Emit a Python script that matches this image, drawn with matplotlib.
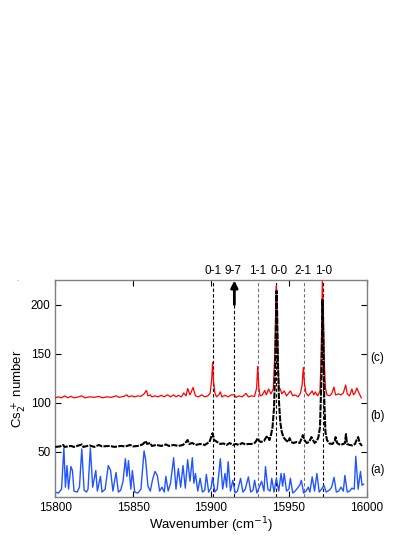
import matplotlib
matplotlib.use("Agg")
import matplotlib.pyplot as plt
import matplotlib.transforms as mtransforms

plt.rcParams["font.family"] = ["Liberation Sans", "DejaVu Sans"]
plt.rcParams["font.size"] = 8

# (a) blue spectrum: vertices (wavenumber, counts)
blue_x = [15800, 15802, 15804, 15805.5, 15806.5, 15807.5, 15808.5, 15810, 15811, 15812,
          15814, 15815.5, 15817, 15818.5, 15820, 15821, 15822.5, 15824, 15826, 15827,
          15829, 15830, 15832, 15834, 15835.5, 15837, 15839, 15840.5, 15842, 15843.5,
          15845, 15846, 15847, 15848.5, 15849.5, 15851, 15853, 15855, 15857, 15858,
          15859.5, 15861, 15862.5, 15864, 15865.5, 15867, 15868.5, 15870, 15871, 15872.5,
          15874, 15876, 15877.5, 15879, 15880.5, 15882, 15883.5, 15885, 15886.5, 15888,
          15889, 15890, 15891.5, 15893, 15894.5, 15896, 15897, 15898.5, 15900, 15901,
          15902.5, 15904, 15906, 15907.5, 15909, 15910, 15911, 15912.5, 15914, 15915.5,
          15917, 15919, 15920.5, 15922, 15924, 15925.5, 15927, 15928, 15929.5, 15931,
          15932.5, 15934, 15935, 15936.5, 15938, 15939, 15940.5, 15942, 15943.5, 15945,
          15946, 15947, 15948.5, 15950, 15951, 15952.5, 15954, 15955.5, 15957, 15958,
          15959.5, 15961, 15962.5, 15963.5, 15965, 15966.5, 15968, 15969.5, 15971, 15972.5,
          15974, 15976, 15977.5, 15979, 15980.5, 15982, 15983.5, 15985, 15986, 15987.5,
          15989, 15990.5, 15992, 15993, 15994.5, 15996, 15997, 15998]
blue_y = [9, 8, 12, 54, 14, 36, 12, 35, 31, 10,
          9, 14, 53, 11, 9, 12, 54, 14, 31, 10,
          25, 9, 12, 36, 31, 10, 29, 9, 11, 20,
          43, 25, 41, 12, 31, 9, 8, 12, 51, 42,
          15, 10, 22, 30, 26, 10, 14, 9, 25, 10,
          18, 44, 12, 33, 14, 36, 13, 42, 20, 44,
          18, 28, 10, 23, 9, 11, 27, 9, 13, 24,
          9, 12, 43, 12, 28, 14, 40, 10, 21, 8,
          10, 23, 9, 12, 24.5, 9, 11, 21, 8, 14,
          20, 10, 35, 12, 10, 23, 9, 23, 10, 28,
          15, 28, 10, 12, 23, 8, 10, 13, 16, 21,
          8, 10, 14, 9, 24.5, 10, 28, 9, 12, 16,
          9, 11, 14, 24, 9, 10, 14, 10, 26, 9,
          10, 13, 12, 45.5, 12, 30, 16, 17]

# (b) black spectrum
black_x = [15800, 15803, 15805, 15806, 15810, 15812, 15817, 15818, 15822, 15825,
           15828, 15830, 15835, 15838, 15842, 15845, 15848, 15850, 15853, 15856,
           15857, 15858, 15859, 15861, 15862, 15865, 15868, 15871, 15873, 15876,
           15879, 15882, 15884, 15885, 15886, 15888, 15890, 15893, 15896, 15899,
           15901, 15902, 15904, 15906, 15908, 15910, 15912, 15914, 15916, 15918,
           15920, 15922, 15924, 15926, 15928, 15929, 15930, 15931, 15932, 15934,
           15935.5, 15936.5, 15937.5, 15938.5, 15939.5, 15940.5, 15941.3, 15941.8, 15942.1, 15942.5,
           15943, 15943.7, 15944.5, 15945.5, 15946.5, 15948, 15949.5, 15950.5, 15951.5, 15953,
           15955, 15957, 15958, 15959, 15960, 15961.5, 15963, 15964.5, 15965.5, 15966.5,
           15968, 15969, 15970, 15971, 15971.6, 15972.2, 15972.8, 15973.5, 15974.5, 15976,
           15978, 15979.5, 15980, 15981, 15983, 15985, 15986, 15986.7, 15987.3, 15989,
           15991, 15992.5, 15993.5, 15994.5, 15995.5, 15997]
black_y = [55, 55.5, 57, 55, 56, 55, 57.5, 55, 56.5, 55,
           57, 55.5, 56, 55, 56, 55.5, 57, 55.5, 56, 57.5,
           59, 61, 58, 59, 56, 57, 56, 57.5, 56, 57,
           56, 57, 60, 62, 58, 59, 57, 58, 57, 60,
           69, 62, 60, 58, 58.5, 57, 59, 57, 58, 57,
           59, 57.5, 58, 58, 59, 61, 64, 61, 60, 61,
           65, 66, 62, 67, 75, 95, 140, 190, 214, 190,
           140, 100, 80, 70, 65, 62, 60, 64, 60, 59,
           60, 59, 63, 67, 62, 59, 60, 65, 62, 59,
           61, 65, 75, 130, 205, 160, 100, 70, 62, 58.5,
           58, 61, 65, 59, 57, 58, 59, 68, 58, 57,
           56.5, 58, 62, 65, 59, 56]

# (c) red spectrum
red_x = [15800, 15802, 15804, 15806, 15808, 15810, 15812, 15815, 15817, 15819,
         15822, 15825, 15828, 15830, 15833, 15836, 15839, 15841, 15844, 15846,
         15847, 15849, 15851, 15853, 15855, 15857, 15858.5, 15859.5, 15861, 15862,
         15864, 15866, 15868, 15870, 15872, 15874, 15876, 15877.5, 15879, 15881,
         15882.5, 15884, 15885, 15886.5, 15888.5, 15890, 15892, 15894, 15896, 15898,
         15899.5, 15900.5, 15901, 15901.6, 15902.5, 15903.5, 15905, 15906, 15907, 15909,
         15911, 15913, 15915, 15916, 15918, 15920, 15922.5, 15924, 15926, 15928,
         15929.3, 15930, 15930.7, 15931.5, 15933, 15934.5, 15935.5, 15937, 15938.5, 15940,
         15941, 15941.7, 15942, 15942.5, 15943, 15943.7, 15944.5, 15945.5, 15947, 15948.5,
         15951, 15952.5, 15954, 15956, 15957.5, 15958.5, 15959.3, 15960, 15961, 15962.5,
         15964, 15965, 15966, 15967, 15968.5, 15970, 15970.8, 15971.5, 15972.2, 15972.8,
         15973.5, 15974.5, 15976, 15977.5, 15979, 15980, 15982, 15983.5, 15985, 15986.5,
         15987.5, 15989, 15990.5, 15991.5, 15992.5, 15993.7, 15995, 15996.5]
red_y = [105, 106, 105, 107, 105, 106.5, 105, 106, 107, 105,
         106, 105.5, 106.5, 105, 106, 105.5, 107, 105.5, 106.5, 108,
         106, 107, 106, 107, 106.5, 109, 112.5, 107, 108, 106,
         107, 106, 107.5, 106, 108, 106, 108, 106, 107.5, 106,
         110, 107, 114.5, 108, 115.5, 107, 106, 108, 106, 107,
         110, 125, 141, 122, 110, 106, 108, 111, 106, 107.5,
         106, 108, 108, 105.5, 107, 106, 109.5, 106, 107, 106.5,
         115, 137, 116, 107, 108, 112.5, 108, 114, 109, 114,
         150, 205, 219, 190, 140, 115, 114, 109, 112, 107,
         112, 107, 108, 106, 110, 118, 136, 120, 110, 107,
         110, 112, 108, 111, 107, 112, 150, 224, 190, 140,
         115, 108, 107, 109, 116, 108, 109, 108, 110, 118,
         109, 107, 114, 108, 110, 115, 110, 105]

# assigned transitions
line_pos = [15901, 15915, 15930, 15942, 15960, 15972]
line_labels = ["0-1", "9-7", "1-1", "0-0", "2-1", "1-0"]
line_colors = ["k", "k", "0.45", "k", "0.45", "k"]
label_pos = [15901, 15914, 15930, 15944, 15959, 15972.5]

trace_labels = ["(a)", "(b)", "(c)"]
trace_label_y = [31, 86, 146]

fig = plt.figure(figsize=(4.15, 5.37), dpi=100)
ax = fig.add_axes([0.1333, 0.0745, 0.7503, 0.4041])

for x, lab, c in zip(line_pos, line_labels, line_colors):
    top = 200 if lab == "9-7" else 225
    ax.plot([x, x], [4, top], color=c, lw=0.8, ls=(0, (3, 2)), zorder=1)

ax.plot(blue_x, blue_y, color="#2255ff", lw=1.0, zorder=2)
ax.plot(red_x, red_y, color="red", lw=0.9, zorder=3)
ax.plot(black_x, black_y, color="k", lw=1.5, ls=(0, (3, 0.6)), zorder=4)

ax.annotate("", xy=(15915, 224.5), xytext=(15915, 200),
            arrowprops=dict(arrowstyle="-|>,head_length=0.5,head_width=0.25",
                            lw=2, color="k", shrinkA=0, shrinkB=0))

trans = mtransforms.blended_transform_factory(ax.transData, ax.transAxes)
for x, lab in zip(label_pos, line_labels):
    ax.text(x, 1.012, lab, transform=trans, ha="center", va="bottom", fontsize=8.5)

for lab, y in zip(trace_labels, trace_label_y):
    ax.text(16002, y, lab, ha="left", va="center", fontsize=8.5, clip_on=False)

ax.set_xlim(15800, 16000)
ax.set_ylim(4, 225)
ax.set_xticks([15800, 15850, 15900, 15950, 16000])
ax.set_yticks([50, 100, 150, 200])
ax.tick_params(direction="in", top=True, right=True, length=4, width=0.8, labelsize=8.5)
for s in ax.spines.values():
    s.set_color("0.5")
    s.set_linewidth(1)

ax.set_xlabel("Wavenumber (cm$^{-1}$)", fontsize=9.5, labelpad=1)
ax.set_ylabel("Cs$_2^+$ number", fontsize=9.5, labelpad=2)
fig.text(0.04, 0.475, "-", fontsize=4, color="0.4")

fig.savefig("out.png", dpi=100)
